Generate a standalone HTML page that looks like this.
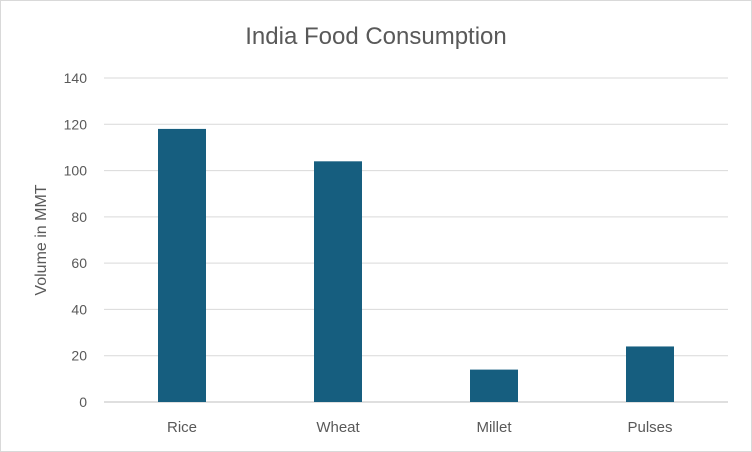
<!DOCTYPE html>
<html><head><meta charset="utf-8"><style>
body{margin:0;background:#fff;}
svg{display:block;font-family:"Liberation Sans",sans-serif;}
</style></head><body>
<svg id="chart" width="752" height="452">
<rect x="0.5" y="0.5" width="751" height="451" fill="#fff" stroke="#d9d9d9"/>
<text x="376" y="44" text-anchor="middle" font-size="24" fill="#595959">India Food Consumption</text>
<text transform="translate(46,240) rotate(-90)" text-anchor="middle" font-size="16" fill="#595959">Volume in MMT</text>
<g id="grid"></g><g id="bars"></g><g id="xlabels"></g>
</svg>
<script>
const categories=["Rice","Wheat","Millet","Pulses"];
const values=[118,104,14,24];
const yTicks=[0,20,40,60,80,100,120,140];
const ns="http://www.w3.org/2000/svg";
const x0=104,x1=728,y0=402,y1=78,yMax=140;
const y=v=>y0-(v/yMax)*(y0-y1);
const band=(x1-x0)/categories.length;
const xc=i=>x0+band*(i+0.5);
const grid=document.getElementById('grid');
yTicks.forEach(t=>{
 const l=document.createElementNS(ns,'line');
 l.setAttribute('x1',x0);l.setAttribute('x2',x1);l.setAttribute('y1',y(t));l.setAttribute('y2',y(t));
 l.setAttribute('stroke',t===0?'#bfbfbf':'#d9d9d9');l.setAttribute('stroke-width','1');
 
 
 grid.appendChild(l);
 const tx=document.createElementNS(ns,'text');
 tx.setAttribute('x',87);tx.setAttribute('y',y(t)+5);tx.setAttribute('text-anchor','end');
 tx.setAttribute('font-size','14');tx.setAttribute('fill','#595959');tx.textContent=t;
 
 
 grid.appendChild(tx);
});
const bars=document.getElementById('bars'),xl=document.getElementById('xlabels');
categories.forEach((c,i)=>{
 const r=document.createElementNS(ns,'rect');
 r.setAttribute('x',xc(i)-24);r.setAttribute('width',48);
 r.setAttribute('y',y(values[i]));r.setAttribute('height',y0-y(values[i]));
 r.setAttribute('fill','#165e7f');
 
 
 bars.appendChild(r);
 const t=document.createElementNS(ns,'text');
 t.setAttribute('x',xc(i));t.setAttribute('y',432);t.setAttribute('text-anchor','middle');
 t.setAttribute('font-size','15');t.setAttribute('fill','#595959');t.textContent=c;
 
 
 xl.appendChild(t);
});
</script>
</body></html>
